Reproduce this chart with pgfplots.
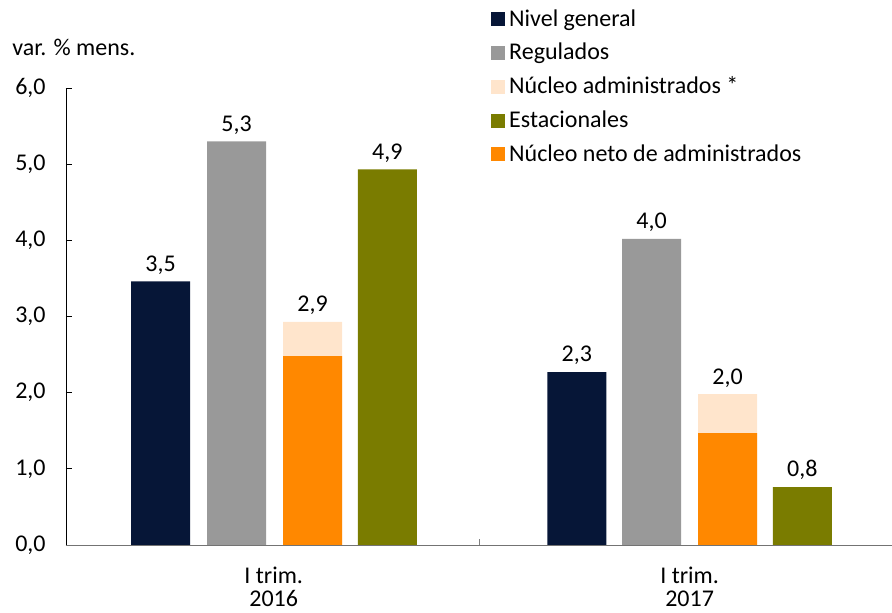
\documentclass[border=0pt]{standalone}
\usepackage{pgfplots}
\pgfplotsset{compat=1.18}
\usepackage{fontspec}
\setmainfont{Carlito}
\definecolor{navy}{HTML}{061637}
\definecolor{greyb}{HTML}{999999}
\definecolor{peach}{HTML}{FFE5CC}
\definecolor{olive}{HTML}{7A7C00}
\definecolor{orng}{HTML}{FF8800}
\newcommand{\fs}{\fontsize{12}{14.4}\selectfont}
\begin{document}
\begin{tikzpicture}
\begin{axis}[name=ax,
  scale only axis, width=413pt, height=228.5pt,
  xmin=0, xmax=2, ymin=0, ymax=6,
  axis x line*=bottom, axis y line*=left,
  x axis line style={color=gray!90!black, -},
  y axis line style={color=black, -},
  ytick={0,1,2,3,4,5,6},
  ytick style={black, thin}, major tick length=3pt,
  tick align=inside,
  xtick={0.503,1.51},
  xticklabels={{I trim.\\[-3pt]2016},{I trim.\\[-3pt]2017}},
  xtick style={draw=none},
  extra x ticks={1}, extra x tick labels={},
  extra x tick style={xtick style={draw=gray, thin}, tick align=inside},
  /pgf/number format/.cd, use comma, fixed, fixed zerofill, precision=1, assume math mode=true,
  /pgfplots/.cd,
  yticklabel style={font=\fs, inner sep=0pt, anchor=east, xshift=-10pt},
  xticklabel style={font=\fs, align=center, inner sep=0pt, anchor=north, yshift=-11pt},
  nodes near coords style={font=\fs, /pgf/number format/.cd, use comma, fixed, fixed zerofill, precision=1, assume math mode=true},
  legend style={at={(rel axis cs:0.507,1.19)}, anchor=north west, draw=none, fill=none,
    font=\fs, row sep=3pt, cells={anchor=west}},
  legend image code/.code={\fill[#1] (0pt,-3.5pt) rectangle (7pt,3.5pt);},
]
\addplot[ybar, bar width=0.143, bar shift=0pt, draw=none, fill=navy, nodes near coords] coordinates {(0.229,3.46) (1.237,2.27)};
\addlegendentry{Nivel general}
\addplot[ybar, bar width=0.143, bar shift=0pt, draw=none, fill=greyb, nodes near coords] coordinates {(0.413,5.30) (1.418,4.02)};
\addlegendentry{Regulados}
\addplot[ybar, bar width=0.143, bar shift=0pt, draw=none, fill=peach, nodes near coords] coordinates {(0.597,2.93) (1.602,1.98)};
\addlegendentry{Núcleo administrados *}
\addplot[ybar, bar width=0.143, bar shift=0pt, draw=none, fill=olive, nodes near coords] coordinates {(0.778,4.93) (1.783,0.76)};
\addlegendentry{Estacionales}
\addplot[ybar, bar width=0.143, bar shift=0pt, draw=none, fill=orng] coordinates {(0.597,2.48) (1.602,1.47)};
\addlegendentry{Núcleo neto de administrados}
\end{axis}
\node[font=\fs, anchor=west, inner sep=0pt] at ([shift={(-27pt,20.5pt)}]ax.north west) {var. \% mens.};
\pgfresetboundingbox
\path[use as bounding box] (ax.south west) ++(-33pt,-34pt) rectangle ++(446pt,306.5pt);
\end{tikzpicture}
\end{document}
